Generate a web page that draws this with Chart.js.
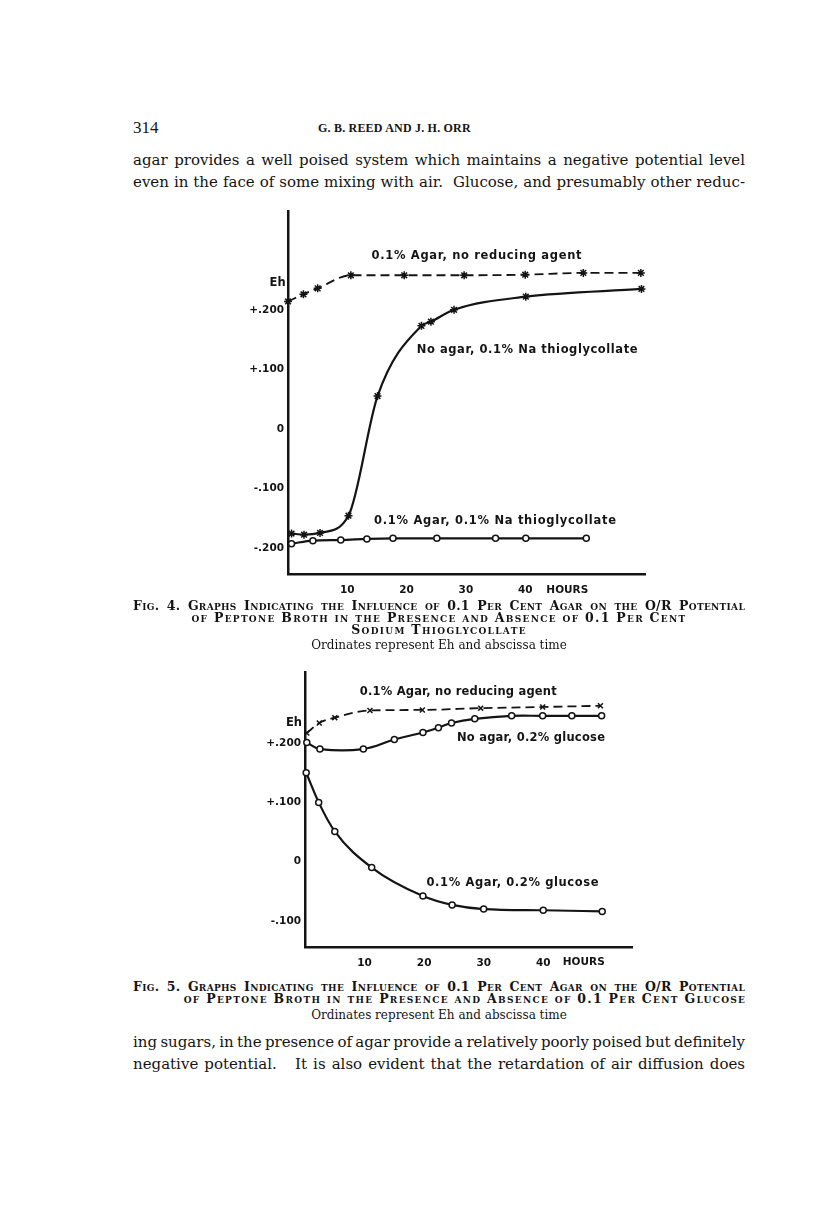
<!DOCTYPE html>
<html>
<head>
<meta charset="utf-8">
<script src="https://cdn.jsdelivr.net/npm/chart.js@4.4.1/dist/chart.umd.min.js"></script>
<style>
  html, body { margin: 0; padding: 0; background: #fff; }
  #page { position: relative; width: 816px; height: 1220px; overflow: hidden; background: #fff; color: #141414; font-family: "DejaVu Serif", serif; }
  .t { position: absolute; white-space: nowrap; line-height: 1; }
  .c { text-align: center; }
  .body { font-size: 15px; }
  .cap { font-variant: small-caps; font-size: 12.5px; font-weight: bold; letter-spacing: 1.3px; }
  .sub { font-size: 12px; }
  canvas { position: absolute; }
</style>
</head>
<body>
<div id="page">
  <div class="t" style="left:133px;top:119px;font-size:17px;font-family:'Liberation Serif',serif;">314</div>
  <div class="t" style="left:318px;top:122px;font-size:12px;font-weight:bold;letter-spacing:0.2px;font-family:'Liberation Serif',serif;">G. B. REED AND J. H. ORR</div>

  <div class="t fit body" style="left:133px;top:153px;width:612px;">agar provides a well poised system which maintains a negative potential level</div>
  <div class="t fit body" style="left:133px;top:175px;width:612px;">even in the face of some mixing with air.&nbsp; Glucose, and presumably other reduc-</div>

  <canvas id="chartFig4" width="440" height="401" style="left:220px;top:199px;"></canvas>

  <div class="t fit cap" style="left:133px;top:600px;width:612px;letter-spacing:0.3px;">Fig. 4. Graphs Indicating the Influence of 0.1 Per Cent Agar on the O/R Potential</div>
  <div class="t c cap" style="left:133px;top:612px;width:612px;">of Peptone Broth in the Presence and Absence of 0.1 Per Cent</div>
  <div class="t c cap" style="left:133px;top:624px;width:612px;">Sodium Thioglycollate</div>
  <div class="t c sub" style="left:133px;top:639px;width:612px;">Ordinates represent Eh and abscissa time</div>

  <canvas id="chartFig5" width="420" height="312" style="left:237px;top:660px;"></canvas>

  <div class="t fit cap" style="left:133px;top:981px;width:612px;letter-spacing:0.3px;">Fig. 5. Graphs Indicating the Influence of 0.1 Per Cent Agar on the O/R Potential</div>
  <div class="t c cap" style="left:150px;top:993px;width:630px;">of Peptone Broth in the Presence and Absence of 0.1 Per Cent Glucose</div>
  <div class="t c sub" style="left:133px;top:1009px;width:612px;">Ordinates represent Eh and abscissa time</div>

  <div class="t fit body" style="left:133px;top:1035px;width:612px;">ing sugars, in the presence of agar provide a relatively poorly poised but definitely</div>
  <div class="t fit body" style="left:133px;top:1057px;width:612px;">negative potential.&nbsp;&nbsp; It is also evident that the retardation of air diffusion does</div>
</div>

<script>
// Fig. 4 - Eh (volts) frente a horas
const fig4AgarAirHours = [0, 2.6, 5.0, 10.6, 19.6, 29.7, 40, 49.8, 59.5];
const fig4AgarAirEh    = [0.214, 0.226, 0.236, 0.258, 0.258, 0.258, 0.259, 0.262, 0.262];
const fig4NoAgarThioHours = [0.6, 2.7, 5.4, 10.2, 15.1, 22.5, 24.1, 28.0, 40.1, 59.6];
const fig4NoAgarThioEh    = [-0.176, -0.178, -0.175, -0.146, 0.055, 0.173, 0.180, 0.200, 0.222, 0.235];
const fig4AgarThioHours = [0.6, 4.2, 8.9, 13.3, 17.7, 25.1, 35.0, 40.1, 50.3];
const fig4AgarThioEh    = [-0.193, -0.188, -0.187, -0.185, -0.184, -0.184, -0.184, -0.184, -0.184];

// Fig. 5
const fig5AgarAirHours = [0.3, 2.4, 5.0, 10.9, 19.7, 29.5, 39.9, 49.6];
const fig5AgarAirEh    = [0.217, 0.234, 0.243, 0.255, 0.256, 0.259, 0.261, 0.263];
const fig5NoAgarGlucoseHours = [0.3, 2.5, 9.8, 15.0, 19.8, 22.4, 24.6, 28.5, 34.7, 39.9, 44.8, 49.8];
const fig5NoAgarGlucoseEh    = [0.201, 0.190, 0.190, 0.206, 0.218, 0.226, 0.234, 0.241, 0.246, 0.246, 0.246, 0.246];
const fig5AgarGlucoseHours = [0.2, 2.3, 5.0, 11.2, 19.8, 24.7, 30.0, 40.0, 49.9];
const fig5AgarGlucoseEh    = [0.150, 0.100, 0.051, -0.010, -0.058, -0.073, -0.080, -0.082, -0.084];

// Ticks
const hourTicks = [10, 20, 30, 40];
const fig4EhTicks = [-0.2, -0.1, 0, 0.1, 0.2];
const fig5EhTicks = [-0.1, 0, 0.1, 0.2];

const INK = '#141414';
const LABEL_FONT = 'bold 11.5px "DejaVu Sans"';
const TICK_FONT = { family: 'DejaVu Sans', size: 10.5, weight: 'bold' };

// Justificar renglones de texto ajustando el espacio entre palabras
document.querySelectorAll('.fit').forEach(el => {
  const target = el.clientWidth;
  const span = document.createElement('span');
  span.textContent = el.textContent;
  el.textContent = '';
  el.appendChild(span);
  const w = span.getBoundingClientRect().width;
  const gaps = (span.textContent.match(/[ \u00a0]/g) || []).length;
  if (gaps) span.style.wordSpacing = ((target - w) / gaps).toFixed(2) + 'px';
});

function pairs(xs, ys) {
  return xs.map((x, i) => ({ x: x, y: ys[i] }));
}

function ehLabel(v) {
  if (Math.abs(v) < 1e-9) return '0';
  return (v > 0 ? '+' : '-') + '.' + String(Math.round(Math.abs(v) * 1000)).padStart(3, '0');
}

// Textos dibujados sobre la gráfica (coordenadas en unidades de datos)
const textLabels = {
  id: 'textLabels',
  afterDraw(chart, args, opts) {
    const { ctx, scales: { x, y } } = chart;
    ctx.save();
    ctx.fillStyle = INK;
    ctx.textBaseline = 'middle';
    opts.items.forEach(it => {
      ctx.font = it.font || LABEL_FONT;
      ctx.textAlign = it.align || 'left';
      if ('letterSpacing' in ctx) ctx.letterSpacing = '0px';
      if (it.width && 'letterSpacing' in ctx) {
        const w = ctx.measureText(it.text).width;
        const sp = (it.width - w) / Math.max(1, it.text.length - 1);
        ctx.letterSpacing = sp.toFixed(2) + 'px';
      }
      ctx.fillText(it.text, x.getPixelForValue(it.x), y.getPixelForValue(it.y));
    });
    ctx.restore();
  }
};

function lineSet(data, opts) {
  return Object.assign({
    data: data,
    borderColor: INK,
    borderWidth: 2.2,
    pointBorderColor: INK,
    pointBackgroundColor: '#fff',
    pointBorderWidth: 1.5,
    pointRadius: 3,
    cubicInterpolationMode: 'monotone',
    clip: false
  }, opts);
}

function render(canvasId, cfg) {
  const canvas = document.getElementById(canvasId);
  if (!canvas) return null;
  return new Chart(canvas.getContext('2d'), {
    type: 'line',
    data: { datasets: cfg.datasets },
    options: {
      responsive: false,
      animation: false,
      layout: { padding: { top: cfg.padTop, right: cfg.padRight, left: 0, bottom: 0 } },
      plugins: {
        legend: { display: false },
        tooltip: { enabled: false },
        textLabels: { items: cfg.labels }
      },
      scales: {
        x: {
          type: 'linear',
          min: 0,
          max: cfg.xMax,
          grid: { display: false, drawTicks: false },
          border: { display: true, color: INK, width: 2.5 },
          afterBuildTicks: s => { s.ticks = hourTicks.map(v => ({ value: v })); },
          afterFit: s => { s.height = cfg.xAxisHeight; },
          ticks: { color: INK, font: TICK_FONT, padding: 10, maxRotation: 0, autoSkip: false }
        },
        y: {
          type: 'linear',
          min: cfg.yMin,
          max: cfg.yMax,
          grid: { display: false, drawTicks: false },
          border: { display: true, color: INK, width: 2.5 },
          afterBuildTicks: s => { s.ticks = cfg.yTicks.map(v => ({ value: v })); },
          afterFit: s => { s.width = 68; },
          ticks: { color: INK, font: TICK_FONT, padding: 4, autoSkip: false, callback: v => ehLabel(v) }
        }
      }
    },
    plugins: [textLabels]
  });
}

render('chartFig4', {
  xMax: 60.2, yMin: -0.244, yMax: 0.366, yTicks: fig4EhTicks,
  padTop: 12, padRight: 15, xAxisHeight: 26,
  datasets: [
    lineSet(pairs(fig4AgarAirHours, fig4AgarAirEh), { borderWidth: 1.8, borderDash: [9, 5], pointStyle: 'star', pointRadius: 4 }),
    lineSet(pairs(fig4NoAgarThioHours, fig4NoAgarThioEh), { pointStyle: 'star', pointRadius: 4 }),
    lineSet(pairs(fig4AgarThioHours, fig4AgarThioEh), { pointStyle: 'circle' })
  ],
  labels: [
    { text: '0.1% Agar, no reducing agent', x: 14.1, y: 0.290, width: 210 },
    { text: 'No agar, 0.1% Na thioglycollate', x: 21.7, y: 0.133, width: 221 },
    { text: '0.1% Agar, 0.1% Na thioglycollate', x: 14.5, y: -0.155, width: 242 },
    { text: 'Eh', x: -0.4, y: 0.245, align: 'right', font: 'bold 11.5px "DejaVu Sans"' },
    { text: 'HOURS', x: 47.1, y: -0.271, align: 'center', font: 'bold 10.5px "DejaVu Sans"' }
  ]
});

render('chartFig5', {
  xMax: 54.9, yMin: -0.144, yMax: 0.320, yTicks: fig5EhTicks,
  padTop: 12, padRight: 25, xAxisHeight: 25,
  datasets: [
    lineSet(pairs(fig5AgarAirHours, fig5AgarAirEh), { borderWidth: 1.8, borderDash: [9, 5], pointStyle: 'crossRot', pointRadius: 3.5 }),
    lineSet(pairs(fig5NoAgarGlucoseHours, fig5NoAgarGlucoseEh), { pointStyle: 'circle', cubicInterpolationMode: 'default', tension: 0.4 }),
    lineSet(pairs(fig5AgarGlucoseHours, fig5AgarGlucoseEh), { pointStyle: 'circle' })
  ],
  labels: [
    { text: '0.1% Agar, no reducing agent', x: 9.2, y: 0.287, width: 197 },
    { text: 'No agar, 0.2% glucose', x: 25.5, y: 0.208, width: 148 },
    { text: '0.1% Agar, 0.2% glucose', x: 20.4, y: -0.036, width: 172 },
    { text: 'Eh', x: -0.5, y: 0.234, align: 'right', font: 'bold 11.5px "DejaVu Sans"' },
    { text: 'HOURS', x: 46.8, y: -0.170, align: 'center', font: 'bold 10.5px "DejaVu Sans"' }
  ]
});
</script>
</body>
</html>
